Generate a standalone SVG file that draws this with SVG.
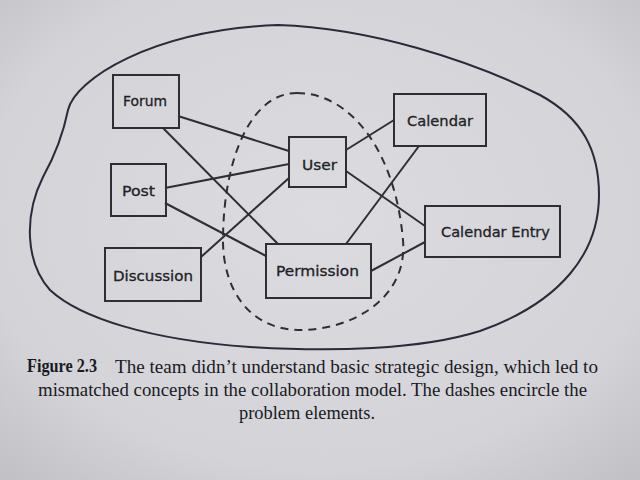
<svg xmlns="http://www.w3.org/2000/svg" width="640" height="480" viewBox="0 0 640 480">
<defs>
<radialGradient id="bg" cx="0.5" cy="0.45" r="0.75">
<stop offset="0" stop-color="#dcdce0"/>
<stop offset="0.7" stop-color="#d3d3d8"/>
<stop offset="1" stop-color="#bfbfc4"/>
</radialGradient>
<style>
.box{fill:none;stroke:#2e2e33;stroke-width:2}
.lbl{font-family:"DejaVu Sans","Liberation Sans",sans-serif;font-size:14px;fill:#222226;stroke:#222226;stroke-width:0.3}
.conn line{stroke:#2e2e33;stroke-width:2}
.cap{font-family:"Liberation Serif","DejaVu Serif",serif;font-size:18.5px;fill:#1a1a1e}
</style>
</defs>
<rect width="640" height="480" fill="url(#bg)"/>
<path id="boundary" d="M 278,25 C 370,28 470,60 540,95 C 582,118 599,150 599,195 C 599,252 562,302 480,331 C 420,350 330,352 250,347 C 150,340 80,318 50,290 C 25,262 24,215 43,177 C 58,150 64,130 68,110 C 75,80 150,30 278,25 Z" fill="none" stroke="#2a2a3a" stroke-width="2"/>
<path id="problem-area" d="M 297,93 C 350,93 395,150 403,240 C 408,300 350,330 300,330 C 250,330 222,290 223,237 C 224,160 250,93 297,93 Z" fill="none" stroke="#2e2e33" stroke-width="2" stroke-dasharray="8,6"/>
<g class="conn" id="connectors">
<line x1="178" y1="116" x2="289" y2="151"/>
<line x1="163" y1="128" x2="278" y2="244"/>
<line x1="165" y1="188" x2="289" y2="164"/>
<line x1="165" y1="203" x2="266" y2="256"/>
<line x1="201" y1="257" x2="289" y2="178"/>
<line x1="346" y1="150" x2="394" y2="120"/>
<line x1="346" y1="171" x2="425" y2="226"/>
<line x1="346" y1="244" x2="419" y2="146"/>
<line x1="371" y1="271" x2="425" y2="242"/>
</g>
<g id="forum"><rect class="box" x="113" y="75" width="66" height="53"/><text class="lbl" x="123" y="106" textLength="44" lengthAdjust="spacingAndGlyphs">Forum</text></g>
<g id="post"><rect class="box" x="111" y="164" width="55" height="52"/><text class="lbl" x="122" y="196" textLength="33" lengthAdjust="spacingAndGlyphs">Post</text></g>
<g id="discussion"><rect class="box" x="105" y="248" width="96" height="53"/><text class="lbl" x="113" y="281" textLength="80" lengthAdjust="spacingAndGlyphs">Discussion</text></g>
<g id="user"><rect class="box" x="289" y="137" width="57" height="50"/><text class="lbl" x="302" y="170" textLength="35" lengthAdjust="spacingAndGlyphs">User</text></g>
<g id="permission"><rect class="box" x="266" y="244" width="105" height="54"/><text class="lbl" x="276" y="276" textLength="83" lengthAdjust="spacingAndGlyphs">Permission</text></g>
<g id="calendar"><rect class="box" x="394" y="94" width="92" height="52"/><text class="lbl" x="407" y="126" textLength="66" lengthAdjust="spacingAndGlyphs">Calendar</text></g>
<g id="calendar-entry"><rect class="box" x="425" y="206" width="135" height="51"/><text class="lbl" x="441" y="237" textLength="109" lengthAdjust="spacingAndGlyphs">Calendar Entry</text></g>
<g id="caption">
<text class="cap" x="27" y="372" font-weight="bold" font-size="16" textLength="70" lengthAdjust="spacingAndGlyphs">Figure 2.3</text>
<text class="cap" x="115" y="373" textLength="483" lengthAdjust="spacingAndGlyphs">The team didn’t understand basic strategic design, which led to</text>
<text class="cap" x="38" y="396" textLength="549" lengthAdjust="spacingAndGlyphs">mismatched concepts in the collaboration model. The dashes encircle the</text>
<text class="cap" x="239" y="419" textLength="136" lengthAdjust="spacingAndGlyphs">problem elements.</text>
</g>
</svg>
